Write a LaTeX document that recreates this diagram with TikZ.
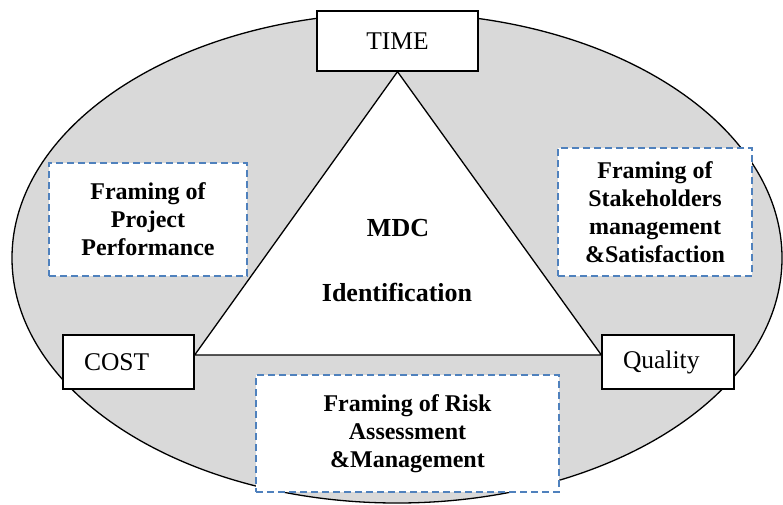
\documentclass[tikz,border=0pt]{standalone}
\usepackage{fontspec}
\setmainfont{Liberation Serif}
\definecolor{ovalgray}{HTML}{D9D9D9}
\definecolor{dashblue}{HTML}{4F81BD}
\begin{document}
\begin{tikzpicture}[x=1pt, y=-1pt,
        cornerbox/.style={draw, fill=white, line width=1.3pt, inner sep=0pt,
          font=\fontsize{25.5}{30}\selectfont},
        framebox/.style={draw=dashblue, fill=white, line width=2.4pt,
          dash pattern=on 7pt off 4pt, inner sep=0pt, align=center,
          font=\fontsize{24}{28}\selectfont\bfseries},
        mdcnode/.style={inner sep=0pt, font=\fontsize{26}{30}\selectfont\bfseries}]
        \useasboundingbox (0,0) rectangle (783,504);
        % ---- oval ----
        \draw[fill=ovalgray, line width=1.3pt] (397,258) ellipse [x radius=385pt, y radius=245pt];
        % ---- corner boxes ----
        \node[cornerbox, minimum width=161pt, minimum height=60pt] (time) at (397.5,41) {TIME};
        \node[cornerbox, minimum height=54pt, text width=89pt, inner xsep=21pt, align=left] (cost) at (128.5,362) {COST};
        \node[cornerbox, minimum height=54pt, text width=90pt, inner xsep=21pt, align=left] (quality) at (668,362) {Quality};
        % ---- triangle ----
        \draw[fill=white, line width=1.3pt, line join=miter]
          (time.south) -- (cost.east |- 0,355) -- (quality.west |- 0,355) -- cycle;
        \node[mdcnode] (mdc) at (398,228) {MDC};
        \node[mdcnode] (ident) at (397,292) {Identification};
        % ---- framing boxes ----
        \node[framebox, minimum width=198pt, minimum height=113pt] (perf) at (148,219.5)
          {Framing of\\Project\\Performance};
        \node[framebox, minimum width=194pt, minimum height=128pt] (stake) at (655,212)
          {Framing of\\Stakeholders\\management\\\&Satisfaction};
        \node[framebox, minimum width=303pt, minimum height=117pt] (risk) at (407.5,433.5)
          {Framing of Risk\\Assessment\\\&Management};
\end{tikzpicture}
\end{document}
